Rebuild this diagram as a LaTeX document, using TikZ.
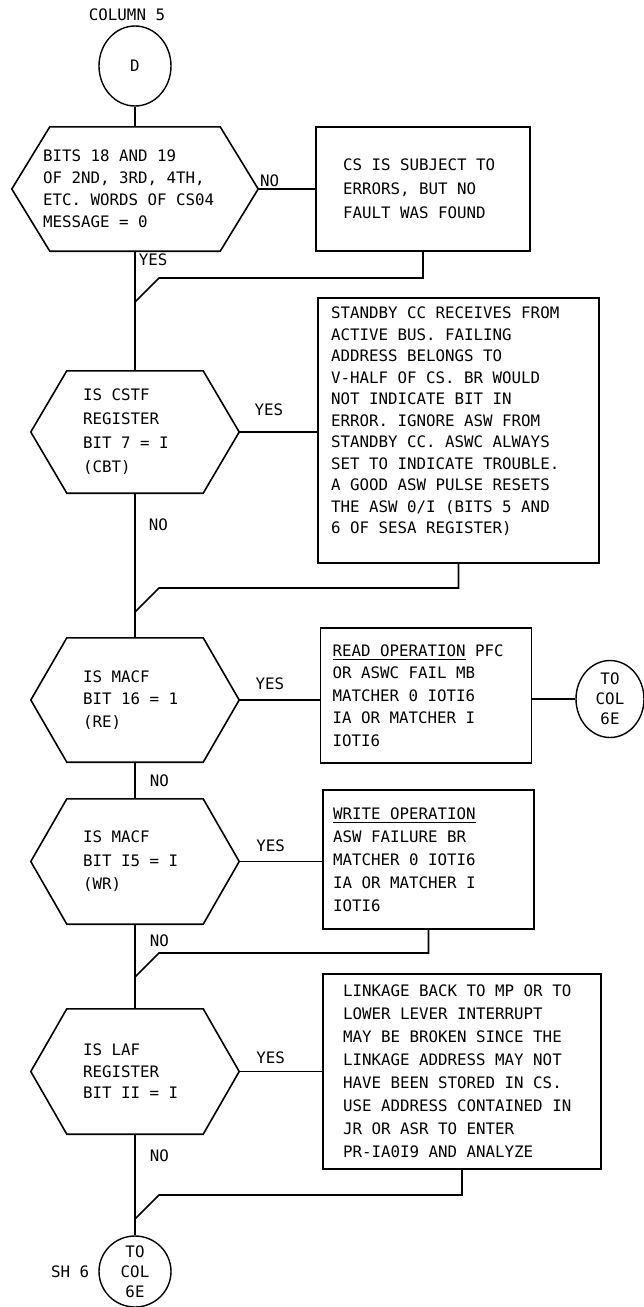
\documentclass[tikz,border=0pt]{standalone}
\usepackage{fontspec}
\usepackage{tikz}
\usetikzlibrary{positioning,calc,shapes.geometric}
\newfontfamily\leroy{DejaVu Sans Mono}
\newcommand{\lettering}[1]{\leroy\fontsize{15.8}{#1}\selectfont}
\newcommand{\ulined}[1]{\setbox0\hbox{#1}\rlap{\rule[-4pt]{\wd0}{1.2pt}}\box0\relax}

\tikzset{
  flow/.style={line width=1.6pt},
  decision/.style={inner sep=0pt, align=left, text width=104pt, minimum width=208pt, minimum height=124pt},
  action/.style={draw, line width=1.6pt, inner sep=0pt, align=left},
  offpage/.style={draw, ellipse, line width=1.4pt, inner sep=-6pt, align=center, minimum width=72pt, minimum height=80pt, font=\lettering{20}},
  lbl/.style={inner sep=1pt},
}

\begin{document}
\begin{tikzpicture}[x=1pt, y=-1pt, font=\lettering{22.5},
    execute at begin node={\spaceskip=0.602em\xspaceskip=0.602em\relax}]
  \useasboundingbox (0,0) rectangle (644,1307);

  % entry point
  \node (col) at (127,15) {COLUMN 5};
  \node[offpage] (d) at (135,66) {D};

  % decisions down the main column
  \node[decision, text width=184pt, minimum width=246pt, font=\lettering{22}] (q1) at (135,189) {BITS 18 AND 19\\OF 2ND, 3RD, 4TH,\\ETC. WORDS OF CS04\\MESSAGE = 0};
  \node[decision, minimum height=122pt, font=\lettering{24}] (q2) at (135,432) {IS CSTF\\REGISTER\\BIT 7 = I\\(CBT)};
  \node[decision] (q3) at (135,700) {IS MACF\\BIT 16 = 1\\(RE)};
  \node[decision, minimum height=125pt, font=\lettering{23.5}] (q4) at (135,861.5) {IS MACF\\BIT I5 = I\\(WR)};
  \node[decision, minimum height=125pt, font=\lettering{21.5}] (q5) at (135,1071.5) {IS LAF\\REGISTER\\BIT II = I};

  % action boxes
  \node[action, minimum width=214pt, minimum height=124pt, text width=160pt, font=\lettering{24}, right=57pt of q1] (b1) {CS IS SUBJECT TO\\ERRORS, BUT NO\\FAULT WAS FOUND};
  \node[action, minimum width=281pt, minimum height=265pt, text width=255pt, font=\lettering{21.5}, right=78pt of q2, yshift=1.5pt] (b2) {STANDBY CC RECEIVES FROM\\ACTIVE BUS. FAILING\\ADDRESS BELONGS TO\\V-HALF OF CS. BR WOULD\\NOT INDICATE BIT IN\\ERROR. IGNORE ASW FROM\\STANDBY CC. ASWC ALWAYS\\SET TO INDICATE TROUBLE.\\A GOOD ASW PULSE RESETS\\THE ASW 0/I (BITS 5 AND\\6 OF SESA REGISTER)\rule[-20pt]{0pt}{20pt}};
  \node[action, minimum width=211pt, minimum height=135pt, text width=187pt, right=80.5pt of q3, yshift=4.5pt] (b3) {\ulined{READ OPERATION} PFC\\OR ASWC FAIL MB\\MATCHER 0 IOTI6\\IA OR MATCHER I\\IOTI6};
  \node[action, minimum width=211pt, minimum height=139pt, text width=191pt, font=\lettering{23}, right=83pt of q4, yshift=2pt] (b4) {\ulined{WRITE OPERATION}\\ASW FAILURE BR\\MATCHER 0 IOTI6\\IA OR MATCHER I\\IOTI6};
  \node[action, minimum width=278pt, minimum height=195pt, text width=238pt, font=\lettering{23}, right=83pt of q5] (b5) {LINKAGE BACK TO MP OR TO\\LOWER LEVER INTERRUPT\\MAY BE BROKEN SINCE THE\\LINKAGE ADDRESS MAY NOT\\HAVE BEEN STORED IN CS.\\USE ADDRESS CONTAINED IN\\JR OR ASR TO ENTER\\PR-IA0I9 AND ANALYZE};

  % off-page connectors
  \node[offpage, minimum width=68pt, minimum height=77pt, right=43pt of b3, yshift=-3.5pt] (c2) {TO\\COL\\6E};
  \node[offpage, minimum height=71pt] (c3) at (135,1271.5) {TO\\COL\\6E};
  \node[lbl, left=8pt of c3] (sh) {SH 6};

  % hexagon outlines
  \foreach \q/\s in {q1/38,q2/36,q3/36,q4/36,q5/36}
    \draw[flow] ($(\q.north west)+(\s,0)$) -- ($(\q.north east)-(\s,0)$) -- (\q.east)
      -- ($(\q.south east)-(\s,0)$) -- ($(\q.south west)+(\s,0)$) -- (\q.west) -- cycle;

  % main flow
  \draw[flow] (d.south) -- (q1.north);
  \draw[flow] (q1.east) -- node[lbl, pos=0.2, above]{NO} (b1.west);
  \draw[flow] (q1.south) -- node[lbl, pos=0.07, right=2pt]{YES} (q2.north);
  \draw[flow] (q2.east) -- node[lbl, pos=0.38, above=14pt]{YES} (q2.east -| b2.west);
  \draw[flow] (q2.south) -- node[lbl, pos=0.22, right=12pt]{NO} (q3.north);
  \draw[flow] (q3.east) -- node[lbl, pos=0.38, above=8pt]{YES} (q3.east -| b3.west);
  \draw[flow] (b3.east |- c2.west) -- (c2.west);
  \draw[flow] (q3.south) -- node[lbl, pos=0.5, right=13pt]{NO} (q4.north);
  \draw[flow] (q4.east) -- node[lbl, pos=0.38, above=8pt]{YES} (q4.east -| b4.west);
  \draw[flow] (q4.south) -- node[lbl, pos=0.19, right=13pt]{NO} (q5.north);
  \draw[flow] (q5.east) -- node[lbl, pos=0.38, above=6pt]{YES} (q5.east -| b5.west);
  \draw[flow] (q5.south) -- node[lbl, pos=0.21, right=13pt]{NO} (c3.north);

  % returns into the main column
  \coordinate (j1) at (135,302);
  \coordinate (j2) at (135,612);
  \coordinate (j4) at (135,977);
  \coordinate (j5) at (135,1219);
  \foreach \b/\j in {b1/j1,b2/j2,b4/j4,b5/j5}
    \draw[flow] (\b.south) |- ($(\j)+(24,-24)$) -- (\j);
\end{tikzpicture}
\end{document}
